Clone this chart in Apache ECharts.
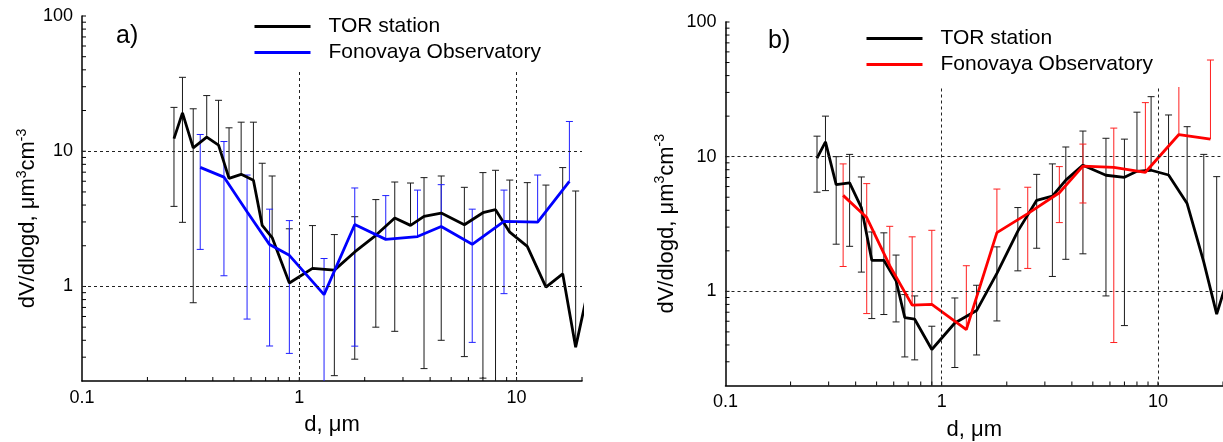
<!DOCTYPE html>
<html>
<head>
<meta charset="utf-8">
<title>dV/dlogd</title>
<script src="https://cdn.jsdelivr.net/npm/echarts@6/dist/echarts.min.js"></script>
<style>
    html, body { margin: 0; padding: 0; background: #fff; }
    #chart { width: 1223px; height: 442px; }
</style>
</head>
<body>
<div id="chart"></div>
<script>
// particle diameters, um (TOR station and Fonovaya Observatory)
var torDiam = [0.265, 0.29, 0.325, 0.375, 0.425, 0.475, 0.54, 0.615, 0.675, 0.75, 0.9, 1.15, 1.45, 1.8,
    2.25, 2.75, 3.25, 3.75, 4.5, 5.75, 7.0, 8.0, 9.3, 11.2, 13.65, 16.3, 18.7, 21.5];
var fonDiam = [0.35, 0.45, 0.575, 0.73, 0.9, 1.3, 1.8, 2.5, 3.5, 4.5, 6.25, 8.75, 12.5, 17.5];

// a) TOR station
var torA    = [12.4, 19.2, 10.6, 12.7, 11.1, 6.3, 6.75, 6.1, 2.83, 2.3, 1.06, 1.36, 1.32, 1.8,
    2.39, 3.21, 2.83, 3.3, 3.49, 2.86, 3.51, 3.7, 2.52, 1.98, 0.99, 1.24, 0.356, 1.0];
var torAUp  = [21.1, 35.2, 20.6, 25.8, 23.8, 14.9, 16.4, 16.4, 8.15, 6.56, 2.67, 2.82, 2.42, 3.28,
    4.39, 5.92, 5.82, 6.38, 6.56, 5.41, 6.95, 7.23, 6.12, 5.86, 5.62, 7.57, 5.08, null];
var torALow = [3.91, 2.98, 0.758, null, null, null, null, null, null, null, null, null, 0.219, 0.29,
    0.5, 0.466, null, 0.247, 0.4, 0.303, 0.21, 0.19, null, null, null, null, null, null];
// a) Fonovaya Observatory
var fonA    = [7.6, 6.44, 3.57, 2.04, 1.7, 0.87, 2.87, 2.23, 2.34, 2.78, 2.05, 3.03, 2.99, 5.98];
var fonAUp  = [13.3, 11.8, 6.67, 3.73, 3.07, 1.61, 5.35, 4.7, 5.16, 5.66, 3.73, 5.16, 6.67, 16.6];
var fonALow = [1.88, 1.2, 0.574, 0.363, 0.32, 0.19, 0.362, null, null, null, 0.386, 0.885, null, null];

// b) TOR station
var torB    = [9.77, 12.9, 6.21, 6.38, 4.19, 1.7, 1.7, 1.2, 0.638, 0.621, 0.37, 0.582, 0.72, 1.36,
    2.8, 4.74, 5.1, 6.7, 8.65, 7.28, 7.03, 7.79, 7.93, 7.31, 4.49, 1.65, 0.678, 1.4];
var torBUp  = [14.2, 20.0, 10.0, 10.4, 7.07, 2.76, 2.72, 1.86, 0.946, 0.925, 0.551, 0.893, 1.11, 2.14,
    4.19, 7.39, 8.84, 11.8, 15.5, 13.7, 13.5, 21.4, 27.9, 20.4, 16.7, 10.4, 7.11, null];
var torBLow = [5.45, 5.6, 2.24, 2.16, 1.39, 0.628, 0.673, 0.593, 0.326, 0.31, 0.19, 0.272, 0.337, 0.603,
    1.42, 2.09, 1.29, 1.73, 1.9, 0.925, 0.557, null, null, null, null, null, null, null];
// b) Fonovaya Observatory
var fonB    = [5.16, 3.53, 1.55, 0.79, 0.8, 0.52, 2.73, 3.78, 5.4, 8.5, 8.34, 7.66, 14.6, 13.5];
var fonBUp  = [8.84, 6.31, 3.04, 2.54, 2.84, 1.55, 5.75, 5.93, 8.44, 12.4, 16.3, 25.2, 36, 52.2];
var fonBLow = [1.53, 0.684, null, null, null, null, null, 1.48, 3.24, 4.53, 0.417, null, null, null];

var xTicks  = [0.2, 0.3, 0.4, 0.5, 0.6, 0.7, 0.8, 0.9, 1, 2, 3, 4, 5, 6, 7, 8, 9, 10, 20];
var yTicks  = [0.3, 0.4, 0.5, 0.6, 0.7, 0.8, 0.9, 1, 2, 3, 4, 5, 6, 7, 8, 9,
    10, 20, 30, 40, 50, 60, 70, 80, 90, 100];
var xLabels = [0.1, 1, 10];
var yLabels = [1, 10, 100];

var FONT = 'Liberation Sans, Arial, sans-serif';

function pairs(x, y) {
    return x.map(function (d, i) { return [d, y[i]]; });
}

// [d, low, high, hasLowCap, hasHighCap]
function bars(x, y, up, low) {
    var out = [];
    x.forEach(function (d, i) {
        if (up[i] == null && low[i] == null) return;
        out.push([d, low[i] == null ? y[i] : low[i], up[i] == null ? y[i] : up[i],
            low[i] == null ? 0 : 1, up[i] == null ? 0 : 1]);
    });
    return out;
}

function renderBars(color) {
    return function (params, api) {
        var x = api.value(0);
        var lo = api.coord([x, api.value(1)]);
        var hi = api.coord([x, api.value(2)]);
        var w = 3.5;
        var st = { stroke: color, lineWidth: 1 };
        var kids = [{ type: 'line', shape: { x1: hi[0], y1: hi[1], x2: lo[0], y2: lo[1] }, style: st }];
        if (api.value(4)) kids.push({ type: 'line', shape: { x1: hi[0] - w, y1: hi[1], x2: hi[0] + w, y2: hi[1] }, style: st });
        if (api.value(3)) kids.push({ type: 'line', shape: { x1: lo[0] - w, y1: lo[1], x2: lo[0] + w, y2: lo[1] }, style: st });
        return { type: 'group', children: kids };
    };
}

// inward ticks at 1..9 x 10^n, anchored on the axis lines: [x, y, 0 = x tick | 1 = y tick]
function tickData() {
    return xTicks.map(function (v) { return [v, 0.2, 0]; })
        .concat(yTicks.map(function (v) { return [0.1, v, 1]; }));
}

function renderTicks(params, api) {
    var p = api.coord([api.value(0), api.value(1)]);
    var st = { stroke: '#000', lineWidth: 1 };
    if (api.value(2) === 0) {
        return { type: 'line', shape: { x1: p[0], y1: p[1], x2: p[0], y2: p[1] - 4 }, style: st };
    }
    return { type: 'line', shape: { x1: p[0], y1: p[1], x2: p[0] + 4, y2: p[1] }, style: st };
}

function fmt(v) {
    return String(+Number(v).toPrecision(3));
}

function logX(idx) {
    return {
        type: 'log', logBase: 10, gridIndex: idx, min: 0.1, max: 20,
        name: 'd, μm', nameLocation: 'middle', nameGap: 33,
        nameTextStyle: { fontFamily: FONT, fontSize: 22, color: '#000' },
        axisLine: { show: true, onZero: false, lineStyle: { color: '#000', width: 1.5 } },
        axisTick: { show: false },
        axisLabel: { customValues: xLabels, margin: 8, fontFamily: FONT, fontSize: 18, color: '#000', formatter: fmt },
        splitLine: { show: false }
    };
}

function logY(idx, gap) {
    return {
        type: 'log', logBase: 10, gridIndex: idx, min: 0.2, max: 100,
        name: '{n|dV/dlogd, μm}{s|3}{n|cm}{s|-3}', nameLocation: 'middle', nameGap: gap,
        nameTextStyle: {
            color: '#000', padding: [0, 40, 0, 0],
            rich: {
                n: { fontFamily: FONT, fontSize: 22, color: '#000', verticalAlign: 'bottom' },
                s: { fontFamily: FONT, fontSize: 14, color: '#000', verticalAlign: 'bottom', padding: [0, 0, 10, 0] }
            }
        },
        axisLine: { show: true, onZero: false, lineStyle: { color: '#000', width: 1.5 } },
        axisTick: { show: false },
        axisLabel: { customValues: yLabels, margin: 9, fontFamily: FONT, fontSize: 18, color: '#000', formatter: fmt },
        splitLine: { show: false }
    };
}

var gridLines = {
    silent: true, symbol: 'none', label: { show: false },
    lineStyle: { type: [3, 3], color: '#222', width: 1 },
    data: [{ xAxis: 1 }, { xAxis: 10 }, { yAxis: 1 }, { yAxis: 10 }]
};

function legendBox(left, top, padding, data) {
    return {
        data: data, orient: 'vertical', left: left, top: top, padding: padding,
        icon: 'rect', itemWidth: 56, itemHeight: 3, itemGap: 5,
        backgroundColor: '#fff', z: 10, selectedMode: false,
        textStyle: { fontFamily: FONT, fontSize: 21, color: '#000', padding: [0, 0, 0, 13] }
    };
}

var myChart = echarts.init(document.getElementById('chart'));
var option = {
    animation: false,
    title: [
        { text: 'a)', left: 116, top: 24, padding: 0, textStyle: { fontFamily: FONT, fontSize: 25, fontWeight: 'normal', color: '#000' } },
        { text: 'b)', left: 768, top: 29, padding: 0, textStyle: { fontFamily: FONT, fontSize: 25, fontWeight: 'normal', color: '#000' } }
    ],
    legend: [
        legendBox(249.5, 6, [10, 15, 9, 5], ['TOR station', 'Fonovaya Observatory']),
        legendBox(861.5, 18, [10, 30, 12, 5], ['TOR station',
            { name: 'Fonovaya Observatory', itemStyle: { color: '#ff0000' } }])
    ],
    grid: [
        { left: 82, top: 16, width: 500, height: 365, outerBoundsMode: 'none' },
        { left: 725.5, top: 22, width: 497.5, height: 363.5, outerBoundsMode: 'none' }
    ],
    xAxis: [logX(0), logX(1)],
    yAxis: [logY(0, 41), logY(1, 48)],
    series: [
        {
            type: 'custom', xAxisIndex: 0, yAxisIndex: 0, silent: true,
            encode: { x: 0, y: 1 }, renderItem: renderTicks, data: tickData()
        },
        {
            type: 'custom', xAxisIndex: 0, yAxisIndex: 0, clip: true,
            encode: { x: 0, y: [1, 2] }, renderItem: renderBars('#1a1a1a'),
            data: bars(torDiam, torA, torAUp, torALow)
        },
        {
            type: 'custom', xAxisIndex: 0, yAxisIndex: 0, clip: true,
            encode: { x: 0, y: [1, 2] }, renderItem: renderBars('#2020ff'),
            data: bars(fonDiam, fonA, fonAUp, fonALow)
        },
        {
            name: 'TOR station', type: 'line', xAxisIndex: 0, yAxisIndex: 0,
            symbol: 'none', lineStyle: { color: '#000', width: 2.8 }, itemStyle: { color: '#000' },
            data: pairs(torDiam, torA), markLine: gridLines
        },
        {
            name: 'Fonovaya Observatory', type: 'line', xAxisIndex: 0, yAxisIndex: 0,
            symbol: 'none', lineStyle: { color: '#0000ff', width: 2.8 }, itemStyle: { color: '#0000ff' },
            data: pairs(fonDiam, fonA)
        },
        {
            type: 'custom', xAxisIndex: 1, yAxisIndex: 1, silent: true,
            encode: { x: 0, y: 1 }, renderItem: renderTicks, data: tickData()
        },
        {
            type: 'custom', xAxisIndex: 1, yAxisIndex: 1, clip: true,
            encode: { x: 0, y: [1, 2] }, renderItem: renderBars('#1a1a1a'),
            data: bars(torDiam, torB, torBUp, torBLow)
        },
        {
            type: 'custom', xAxisIndex: 1, yAxisIndex: 1, clip: true,
            encode: { x: 0, y: [1, 2] }, renderItem: renderBars('#ff2020'),
            data: bars(fonDiam, fonB, fonBUp, fonBLow)
        },
        {
            name: 'TOR station', type: 'line', xAxisIndex: 1, yAxisIndex: 1,
            symbol: 'none', lineStyle: { color: '#000', width: 2.8 }, itemStyle: { color: '#000' },
            data: pairs(torDiam, torB), markLine: gridLines
        },
        {
            name: 'Fonovaya Observatory', type: 'line', xAxisIndex: 1, yAxisIndex: 1,
            symbol: 'none', lineStyle: { color: '#ff0000', width: 2.8 }, itemStyle: { color: '#ff0000' },
            data: pairs(fonDiam, fonB)
        }
    ]
};
myChart.setOption(option);
</script>
</body>
</html>
